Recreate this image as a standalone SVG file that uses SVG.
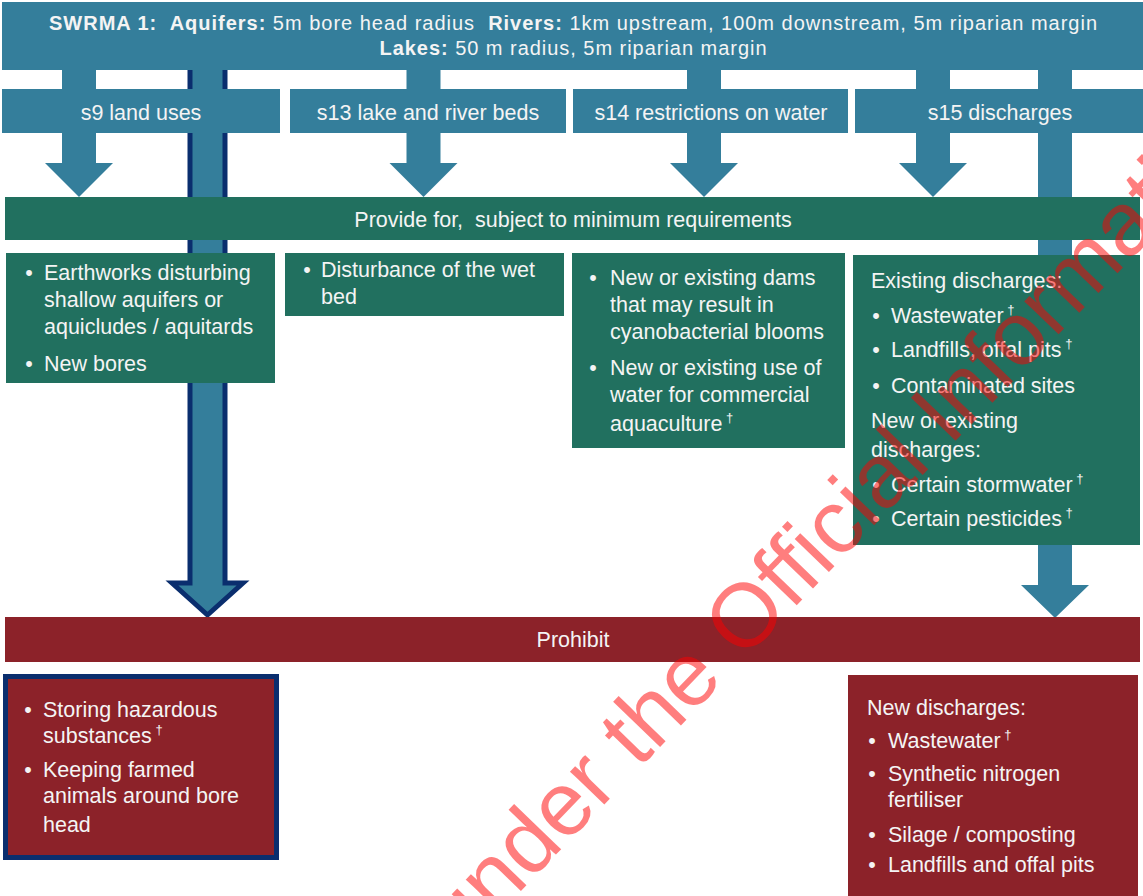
<svg xmlns="http://www.w3.org/2000/svg" width="1143" height="896" viewBox="0 0 1143 896">
<style>
.teal{fill:#347E9B}
.grn{fill:#21705F}
.red{fill:#8C2229}
text{font-family:'Liberation Sans',Arial,sans-serif;fill:#F4F4F4}
.t{font-size:21.5px}
.c{text-anchor:middle}
.h{font-size:20px}
.b{font-weight:bold}
.sup{font-size:13px}
.wm{font-size:90px;fill:#FF0000;opacity:0.5}
</style>
<rect width="1143" height="896" fill="#FFFFFF"/>
<g id="connectors">
<path class="teal" d="M62,68 H96 V163 H113 L79,197 L45,163 H62 Z"/>
<path class="teal" d="M406.5,68 H440.5 V163 H457.5 L423.5,197 L389.5,163 H406.5 Z"/>
<path class="teal" d="M687,68 H721 V163 H738 L704,197 L670,163 H687 Z"/>
<path class="teal" d="M916,68 H950 V163 H967 L933,197 L899,163 H916 Z"/>
<path class="teal" d="M1038,68 H1072 V585 H1089 L1055,618 L1021,585 H1038 Z"/>
<path class="teal" d="M190,60 H225 V583 H243 L207.5,615 L172,583 H190 Z" stroke="#0A2E6E" stroke-width="5" stroke-linejoin="miter"/>
</g>
<g id="header">
<rect class="teal" x="2" y="2" width="1141" height="68"/>
<text class="h c" x="573" y="30" textLength="1048" xml:space="preserve"><tspan class="b">SWRMA 1:  Aquifers:</tspan> 5m bore head radius  <tspan class="b">Rivers:</tspan> 1km upstream, 100m downstream, 5m riparian margin</text>
<text class="h c" x="573" y="55" textLength="387"><tspan class="b">Lakes:</tspan> 50 m radius, 5m riparian margin</text>
</g>
<g id="s9">
<rect class="teal" x="2" y="89" width="278" height="44"/>
<text class="t c" x="141" y="120">s9 land uses</text>
</g>
<g id="s13">
<rect class="teal" x="290" y="89" width="276" height="44"/>
<text class="t c" x="428" y="120">s13 lake and river beds</text>
</g>
<g id="s14">
<rect class="teal" x="573" y="89" width="275" height="44"/>
<text class="t c" x="711" y="120">s14 restrictions on water</text>
</g>
<g id="s15">
<rect class="teal" x="855" y="89" width="290" height="44"/>
<text class="t c" x="1000" y="120">s15 discharges</text>
</g>
<g id="provide">
<rect class="grn" x="5" y="197" width="1135" height="43"/>
<text class="t c" x="573" y="227" xml:space="preserve">Provide for,  subject to minimum requirements</text>
</g>
<g id="provide-s9">
<rect class="grn" x="6" y="253" width="269" height="130"/>
<text class="t c" x="29" y="280">•</text>
<text class="t" x="44" y="280">Earthworks disturbing</text>
<text class="t" x="44" y="307">shallow aquifers or</text>
<text class="t" x="44" y="334">aquicludes / aquitards</text>
<text class="t c" x="29" y="371">•</text>
<text class="t" x="44" y="371">New bores</text>
</g>
<g id="provide-s13">
<rect class="grn" x="285" y="253" width="279" height="63"/>
<text class="t c" x="307" y="277">•</text>
<text class="t" x="321" y="277">Disturbance of the wet</text>
<text class="t" x="321" y="304">bed</text>
</g>
<g id="provide-s14">
<rect class="grn" x="572" y="253" width="273" height="195"/>
<text class="t c" x="593" y="285">•</text>
<text class="t" x="610" y="285">New or existing dams</text>
<text class="t" x="610" y="312">that may result in</text>
<text class="t" x="610" y="339">cyanobacterial blooms</text>
<text class="t c" x="593" y="375">•</text>
<text class="t" x="610" y="375">New or existing use of</text>
<text class="t" x="610" y="402">water for commercial</text>
<text class="t" x="610" y="431">aquaculture<tspan class="sup" dy="-9"> †</tspan></text>
</g>
<g id="provide-s15">
<rect class="grn" x="853" y="255" width="287" height="290"/>
<text class="t" x="871" y="288">Existing discharges:</text>
<text class="t c" x="876" y="323">•</text>
<text class="t" x="891" y="323">Wastewater<tspan class="sup" dy="-9"> †</tspan></text>
<text class="t c" x="876" y="357">•</text>
<text class="t" x="891" y="357">Landfills, offal pits<tspan class="sup" dy="-9"> †</tspan></text>
<text class="t c" x="876" y="393">•</text>
<text class="t" x="891" y="393">Contaminated sites</text>
<text class="t" x="871" y="428">New or existing</text>
<text class="t" x="871" y="457">discharges:</text>
<text class="t c" x="876" y="492">•</text>
<text class="t" x="891" y="492">Certain stormwater<tspan class="sup" dy="-9"> †</tspan></text>
<text class="t c" x="876" y="526">•</text>
<text class="t" x="891" y="526">Certain pesticides<tspan class="sup" dy="-9"> †</tspan></text>
</g>
<g id="prohibit">
<rect class="red" x="5" y="617" width="1135" height="45"/>
<text class="t c" x="573" y="647">Prohibit</text>
</g>
<g id="prohibit-aquifers">
<rect class="red" x="5.5" y="676.5" width="271" height="181" stroke="#0A2E6E" stroke-width="5"/>
<text class="t c" x="28" y="717">•</text>
<text class="t" x="43" y="717">Storing hazardous</text>
<text class="t" x="43" y="743">substances<tspan class="sup" dy="-9"> †</tspan></text>
<text class="t c" x="28" y="777">•</text>
<text class="t" x="43" y="777">Keeping farmed</text>
<text class="t" x="43" y="803">animals around bore</text>
<text class="t" x="43" y="832">head</text>
</g>
<g id="prohibit-discharges">
<rect class="red" x="848" y="675" width="290" height="230"/>
<text class="t" x="867" y="715">New discharges:</text>
<text class="t c" x="872" y="748">•</text>
<text class="t" x="888" y="748">Wastewater<tspan class="sup" dy="-9"> †</tspan></text>
<text class="t c" x="872" y="781">•</text>
<text class="t" x="888" y="781">Synthetic nitrogen</text>
<text class="t" x="888" y="807">fertiliser</text>
<text class="t c" x="872" y="842">•</text>
<text class="t" x="888" y="842">Silage / composting</text>
<text class="t c" x="872" y="872">•</text>
<text class="t" x="888" y="872">Landfills and offal pits</text>
</g>
<g id="watermark">
<text class="wm" x="461" y="953" transform="rotate(-46 461 953)">under the Official Information</text>
</g>
</svg>
